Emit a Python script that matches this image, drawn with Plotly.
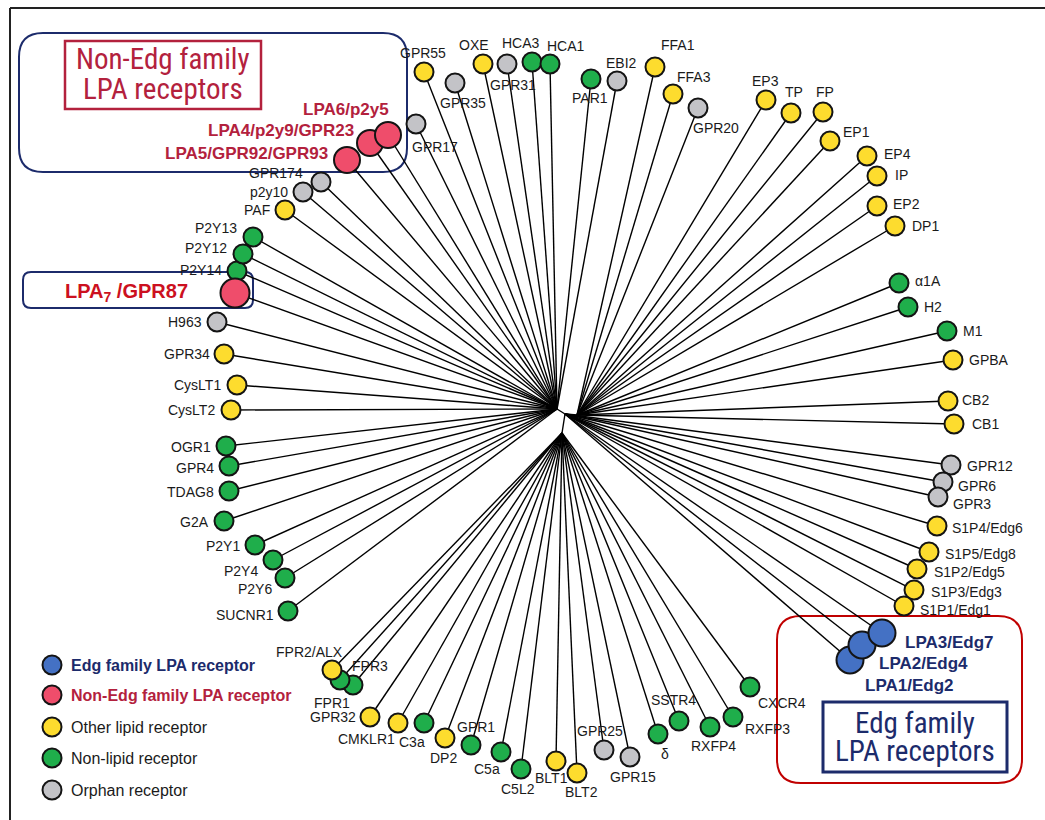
import plotly.graph_objects as go

# ---------------- data ----------------
names = ["GPR55", "GPR35", "GPR17", "OXE", "GPR31", "HCA3", "HCA1", "PAR1", "EBI2",
         "FFA1", "FFA3", "GPR20", "EP3", "TP", "FP", "EP1", "EP4", "IP", "EP2", "DP1",
         "α1A", "H2", "M1", "GPBA", "CB2", "CB1", "GPR12", "GPR6", "GPR3",
         "S1P4/Edg6", "S1P5/Edg8", "S1P2/Edg5", "S1P3/Edg3", "S1P1/Edg1",
         "LPA1/Edg2", "LPA2/Edg4", "LPA3/Edg7",
         "CXCR4", "RXFP3", "RXFP4", "SSTR4", "δ", "GPR15", "GPR25", "BLT2", "BLT1",
         "C5L2", "C5a", "GPR1", "DP2", "C3a", "CMKLR1", "GPR32", "FPR3", "FPR1", "FPR2/ALX",
         "SUCNR1", "P2Y6", "P2Y4", "P2Y1", "G2A", "TDAG8", "GPR4", "OGR1", "CysLT2", "CysLT1",
         "GPR34", "H963", "P2Y14", "LPA7/GPR87", "P2Y12", "P2Y13", "PAF", "p2y10", "GPR174",
         "LPA5/GPR92/GPR93", "LPA4/p2y9/GPR23", "LPA6/p2y5"]

leaf_x = [424, 455, 416, 483, 507, 532, 550, 591, 617,
          655, 673, 698, 766, 791, 823, 830, 867, 877, 877, 895,
          899, 908, 947, 953, 948, 954, 951, 943, 938,
          937, 929, 917, 914, 904,
          850, 862, 882,
          750, 733, 710, 679, 658, 630, 604, 577, 556,
          521, 501, 471, 445, 424, 398, 370, 353, 340, 332,
          288, 285, 273, 255, 224, 229, 229, 226, 231, 237,
          224, 217, 237, 235, 243, 253, 285, 303, 321,
          347, 370, 388]

leaf_y = [72, 83, 124, 64, 64, 62, 64, 79, 81,
          67, 94, 108, 100, 113, 112, 141, 156, 176, 206, 226,
          283, 307, 331, 360, 401, 424, 465, 482, 497,
          526, 552, 569, 590, 606,
          660, 645, 633,
          687, 717, 727, 721, 734, 757, 750, 773, 761,
          769, 752, 745, 738, 723, 723, 717, 685, 680, 670,
          611, 578, 560, 545, 521, 491, 466, 446, 410, 385,
          354, 322, 271, 293, 254, 237, 210, 192, 182,
          160, 143, 135]

category = ["lipid", "orphan", "orphan", "lipid", "orphan", "nonlipid", "nonlipid", "nonlipid", "orphan",
            "lipid", "lipid", "orphan", "lipid", "lipid", "lipid", "lipid", "lipid", "lipid", "lipid", "lipid",
            "nonlipid", "nonlipid", "nonlipid", "lipid", "lipid", "lipid", "orphan", "orphan", "orphan",
            "lipid", "lipid", "lipid", "lipid", "lipid",
            "edg", "edg", "edg",
            "nonlipid", "nonlipid", "nonlipid", "nonlipid", "nonlipid", "orphan", "orphan", "lipid", "lipid",
            "nonlipid", "nonlipid", "nonlipid", "lipid", "nonlipid", "lipid", "lipid", "nonlipid", "nonlipid", "lipid",
            "nonlipid", "nonlipid", "nonlipid", "nonlipid", "nonlipid", "nonlipid", "nonlipid", "nonlipid", "lipid", "lipid",
            "lipid", "orphan", "nonlipid", "nonedg", "nonlipid", "nonlipid", "lipid", "orphan", "orphan",
            "nonedg", "nonedg", "nonedg"]

# tree topology: parent internal node of each leaf
parent = ["L"] * 9 + ["R"] * 17 + ["C"] * 11 + ["B"] * 19 + ["L"] * 22

node_names = ["C", "L", "R", "B"]
node_x = [565, 557, 577, 562]
node_y = [414, 409, 415, 433]
node_parent = [None, "C", "C", "C"]

legend_cats = ["edg", "nonedg", "lipid", "nonlipid", "orphan"]
legend_text = ["Edg family LPA receptor", "Non-Edg family LPA receptor",
               "Other lipid receptor", "Non-lipid receptor", "Orphan receptor"]

# ---------------- layout of labels (anchor x, anchor y, xanchor) ----------------
label_x = [423, 463, 435, 474, 513, 521, 566, 590, 621,
           678, 694, 716, 765, 794, 825, 841, 882, 893, 891, 910,
           913, 922, 961, 967, 960, 970, 965, 956, 951,
           950, 943, 932, 929, 918,
           863, 877, 903,
           756, 743, 713, 673, 665, 633, 600, 581, 551,
           518, 487, 476, 443, 412, 366, 358, 350, 332, 345,
           276, 274, 260, 242, 211, 216, 216, 213, 217, 223,
           212, 204, 224, 63, 229, 239, 272, 290, 305,
           330, 356, 391]
label_y = [53, 103, 147, 45, 85, 43, 46, 98, 63,
           45, 77, 128, 81, 92, 92, 132, 154, 175, 204, 226,
           281, 307, 331, 360, 400, 424, 466, 486, 504,
           528, 554, 572, 592, 610,
           685, 663, 642,
           703, 729, 746, 700, 754, 777, 731, 792, 778,
           789, 769, 727, 758, 742, 739, 717, 666, 703, 652,
           615, 589, 571, 546, 522, 492, 468, 447, 410, 385,
           354, 322, 270, 292, 248, 228, 210, 192, 173,
           153, 130, 109]
label_anchor = ["center"] * 15 + ["left"] * 22 + ["left", "left"] + ["center"] * 13 + \
               ["right", "left", "center", "right"] + ["right"] * 13 + ["left"] + ["right"] * 8

colors = {"edg": "#4471c4", "nonedg": "#ef4d6b", "lipid": "#fddc2e",
          "nonlipid": "#1fae4b", "orphan": "#c3c3c7"}
sizes = {"edg": 27, "nonedg": 26, "lipid": 19, "nonlipid": 19, "orphan": 19}
NAVY = "#1c2b6b"
CRIMSON = "#b3213d"
SANS = "Liberation Sans, Arial, sans-serif"
NARROW = "Liberation Sans Narrow, Arial Narrow, Roboto Condensed, sans-serif"

fig = go.Figure()

# branches
lx, ly = [], []
npos = {n: (x, y) for n, x, y in zip(node_names, node_x, node_y)}
for n, p in zip(node_names, node_parent):
    if p:
        lx += [npos[n][0], npos[p][0], None]
        ly += [npos[n][1], npos[p][1], None]
for x, y, p in zip(leaf_x, leaf_y, parent):
    lx += [npos[p][0], x, None]
    ly += [npos[p][1], y, None]
fig.add_trace(go.Scatter(x=lx, y=ly, mode="lines", line=dict(color="black", width=1.4),
                         hoverinfo="skip", showlegend=False))

# leaves
msize = [29 if n.startswith("LPA7") else sizes[c] for n, c in zip(names, category)]
fig.add_trace(go.Scatter(x=leaf_x, y=leaf_y, mode="markers", text=names,
                         marker=dict(size=msize, opacity=1, color=[colors[c] for c in category],
                                     line=dict(color="#141414", width=2)),
                         showlegend=False, hoverinfo="text"))

ann = []
for n, c, x, y, a in zip(names, category, label_x, label_y, label_anchor):
    font = dict(family=SANS, size=14, color="#1a1a1a")
    text = n
    if c == "edg":
        font = dict(family=SANS, size=17, color=NAVY)
        text = "<b>%s</b>" % n
    elif c == "nonedg":
        if n.startswith("LPA7"):
            font = dict(family=SANS, size=20, color="#cc1020")
            text = "<b>LPA<sub>7</sub> /GPR87</b>"
        else:
            font = dict(family=SANS, size=17, color=CRIMSON)
            text = "<b>%s</b>" % n
    ann.append(dict(x=x, y=y, text=text, showarrow=False, xanchor=a, yanchor="middle",
                    font=font, xref="x", yref="y"))

# legend
leg_y = [665, 695, 727, 758, 790]
fig.add_trace(go.Scatter(x=[52] * 5, y=leg_y, mode="markers",
                         marker=dict(size=19, opacity=1, color=[colors[c] for c in legend_cats],
                                     line=dict(color="#141414", width=2)),
                         showlegend=False, hoverinfo="skip"))
for i, (c, t) in enumerate(zip(legend_cats, legend_text)):
    if c == "edg":
        txt, col = "<b>%s</b>" % t, NAVY
    elif c == "nonedg":
        txt, col = "<b>%s</b>" % t, CRIMSON
    else:
        txt, col = t, "#1a1a1a"
    ann.append(dict(x=69, y=leg_y[i], text=txt, showarrow=False, xanchor="left", yanchor="middle",
                    font=dict(family=SANS, size=16, color=col)))

# box titles
ann.append(dict(x=163, y=59, text="Non-Edg family", showarrow=False, font=dict(family=NARROW, size=29, color=CRIMSON)))
ann.append(dict(x=163, y=89, text="LPA receptors", showarrow=False, font=dict(family=NARROW, size=29, color=CRIMSON)))
ann.append(dict(x=915, y=723, text="Edg family", showarrow=False, font=dict(family=NARROW, size=29, color=NAVY)))
ann.append(dict(x=915, y=751, text="LPA receptors", showarrow=False, font=dict(family=NARROW, size=29, color=NAVY)))


def rrect(x0, y0, x1, y1, r):
    return (f"M{x0+r},{y0} L{x1-r},{y0} Q{x1},{y0} {x1},{y0+r} L{x1},{y1-r} "
            f"Q{x1},{y1} {x1-r},{y1} L{x0+r},{y1} Q{x0},{y1} {x0},{y1-r} "
            f"L{x0},{y0+r} Q{x0},{y0} {x0+r},{y0} Z")


shapes = [
    dict(type="path", path=rrect(19, 33, 407, 172, 24), line=dict(color=NAVY, width=2), layer="below"),
    dict(type="rect", x0=65, y0=41, x1=261, y1=109, line=dict(color=CRIMSON, width=2.5), layer="below"),
    dict(type="path", path=rrect(23, 272, 253, 308, 8), line=dict(color=NAVY, width=2), layer="below"),
    dict(type="path", path=rrect(777, 616, 1022, 783, 24), line=dict(color="#c00000", width=2), layer="below"),
    dict(type="rect", x0=823, y0=702, x1=1007, y1=772, line=dict(color=NAVY, width=3), layer="below"),
    dict(type="line", x0=10, y0=8, x1=1045, y1=8, line=dict(color="#222222", width=2)),
    dict(type="line", x0=10, y0=8, x1=10, y1=820, line=dict(color="#222222", width=2)),
]

fig.update_layout(
    width=1045, height=820, margin=dict(l=0, r=0, t=0, b=0),
    paper_bgcolor="white", plot_bgcolor="white",
    xaxis=dict(range=[0, 1045], visible=False, fixedrange=True),
    yaxis=dict(range=[820, 0], visible=False, fixedrange=True),
    annotations=ann, shapes=shapes, showlegend=False,
)

fig.write_html("out.html")
